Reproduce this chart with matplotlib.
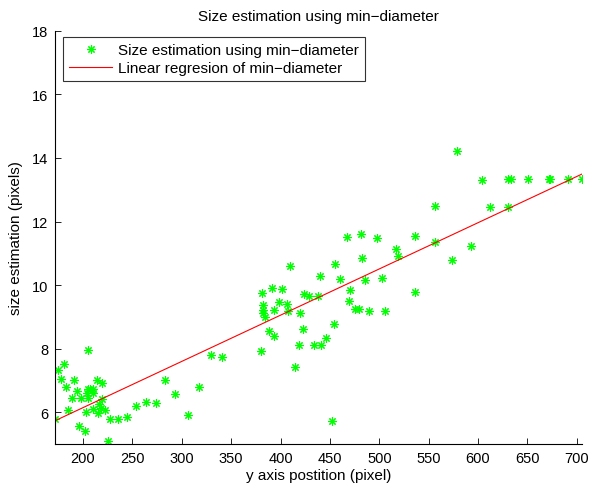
import numpy as np
import matplotlib
matplotlib.use("Agg")
import matplotlib.pyplot as plt

plt.rcParams['font.family'] = ['Liberation Sans', 'DejaVu Sans']

# y position of each detection (pixel) and its min-diameter size estimate
y_pos = [171.6, 174.6, 180.7, 177.7, 190.5, 182.4, 193.6, 188.5, 197.9, 204.7,
         207.0, 210.4, 203.7, 204.7, 210.4, 213.8, 219.5, 218.9, 216.5, 218.2,
         222.3, 209.8, 215.5, 202.7, 185.1, 195.6, 201.7, 227.3, 235.1, 244.2,
         225.0, 204.7, 253.7, 263.8, 274.0, 282.7, 293.5, 306.0, 317.2, 329.3,
         340.8,
         380.0, 381.0, 382.6, 382.0, 382.6, 384.4, 388.1, 391.2, 393.8, 393.8,
         398.9, 401.0, 407.0, 408.0, 410.0, 414.3, 418.3, 419.3, 423.2, 424.2,
         429.3, 433.7, 438.4, 440.1, 441.1, 446.2, 452.2, 454.3, 455.3, 460.4,
         467.1, 469.2, 470.5, 475.5, 479.9, 481.3, 482.6, 485.7, 489.4, 498.1,
         503.2, 506.3, 517.1, 519.1, 536.4, 536.4, 556.6,
         578.5, 556.3, 573.5, 592.4, 604.2, 612.6, 630.2, 633.3, 630.6, 650.5,
         671.8, 673.1, 690.7, 705.0]
size_est = [5.79, 7.33, 7.52, 7.05, 7.03, 6.79, 6.68, 6.47, 6.47, 6.73,
            6.73, 6.75, 6.61, 6.47, 6.61, 7.02, 6.94, 6.42, 6.26, 6.13,
            6.07, 6.10, 5.98, 6.00, 6.08, 5.58, 5.41, 5.79, 5.79, 5.86,
            5.09, 7.96, 6.21, 6.33, 6.29, 7.01, 6.58, 5.92, 6.81, 7.82,
            7.75,
            7.94, 9.77, 9.37, 9.23, 9.14, 9.01, 8.55, 9.90, 9.21, 8.39,
            9.48, 9.88, 9.40, 9.20, 10.59, 7.42, 8.12, 9.14, 8.62, 9.71,
            9.67, 8.12, 9.67, 10.30, 8.12, 8.34, 5.74, 8.78, 10.66, 10.19,
            11.53, 9.51, 9.86, 9.25, 9.25, 11.61, 10.84, 10.16, 9.20, 11.48,
            10.23, 9.20, 11.14, 10.91, 11.55, 9.79, 11.35,
            14.21, 12.48, 10.78, 11.24, 13.31, 12.46, 13.33, 13.33, 12.46, 13.33,
            13.33, 13.33, 13.33, 13.33]

# fitted regression coefficients (size = slope * y_pos + intercept)
reg_slope = 0.01453
reg_intercept = 3.247

x = np.array(y_pos)
y = np.array(size_est)
line_x = np.array([x.min(), x.max()])

fig = plt.figure(figsize=(5.9, 4.89), dpi=100)
ax = fig.add_axes([55 / 590, 1 - 445.3 / 489, 526.7 / 590, 413.6 / 489])

ax.plot(x, y, linestyle='none', marker=(8, 2, 0), markersize=6,
        markeredgewidth=0.8, color=(0, 1, 0),
        label='Size estimation using min\u2212diameter')
ax.plot(line_x, reg_intercept + reg_slope * line_x, color='red', linewidth=0.8,
        label='Linear regresion of min\u2212diameter')

ax.set_xlim(x.min(), x.max())
ax.set_ylim(5, 18)
ax.set_xticks(np.arange(200, 701, 50))
ax.set_yticks(np.arange(6, 19, 2))
ax.tick_params(direction='in', length=4, width=0.6, labelsize=10.5, pad=5)
for side in ['top', 'right']:
    ax.spines[side].set_visible(False)
for side in ['left', 'bottom']:
    ax.spines[side].set_linewidth(0.8)

ax.set_title('Size estimation using min\u2212diameter', fontsize=11, pad=8)
ax.set_xlabel('y axis postition (pixel)', fontsize=11, labelpad=2)
ax.set_ylabel('size estimation (pixels)', fontsize=11, labelpad=6)

leg = ax.legend(loc='upper left', bbox_to_anchor=(0.0158, 0.984), fontsize=11,
                frameon=True, fancybox=False, borderpad=0.4, handlelength=2.8,
                labelspacing=0.25, borderaxespad=0, handletextpad=0.35)
leg.get_frame().set_edgecolor('black')
leg.get_frame().set_linewidth(0.8)

fig.savefig('out.png', dpi=100)
